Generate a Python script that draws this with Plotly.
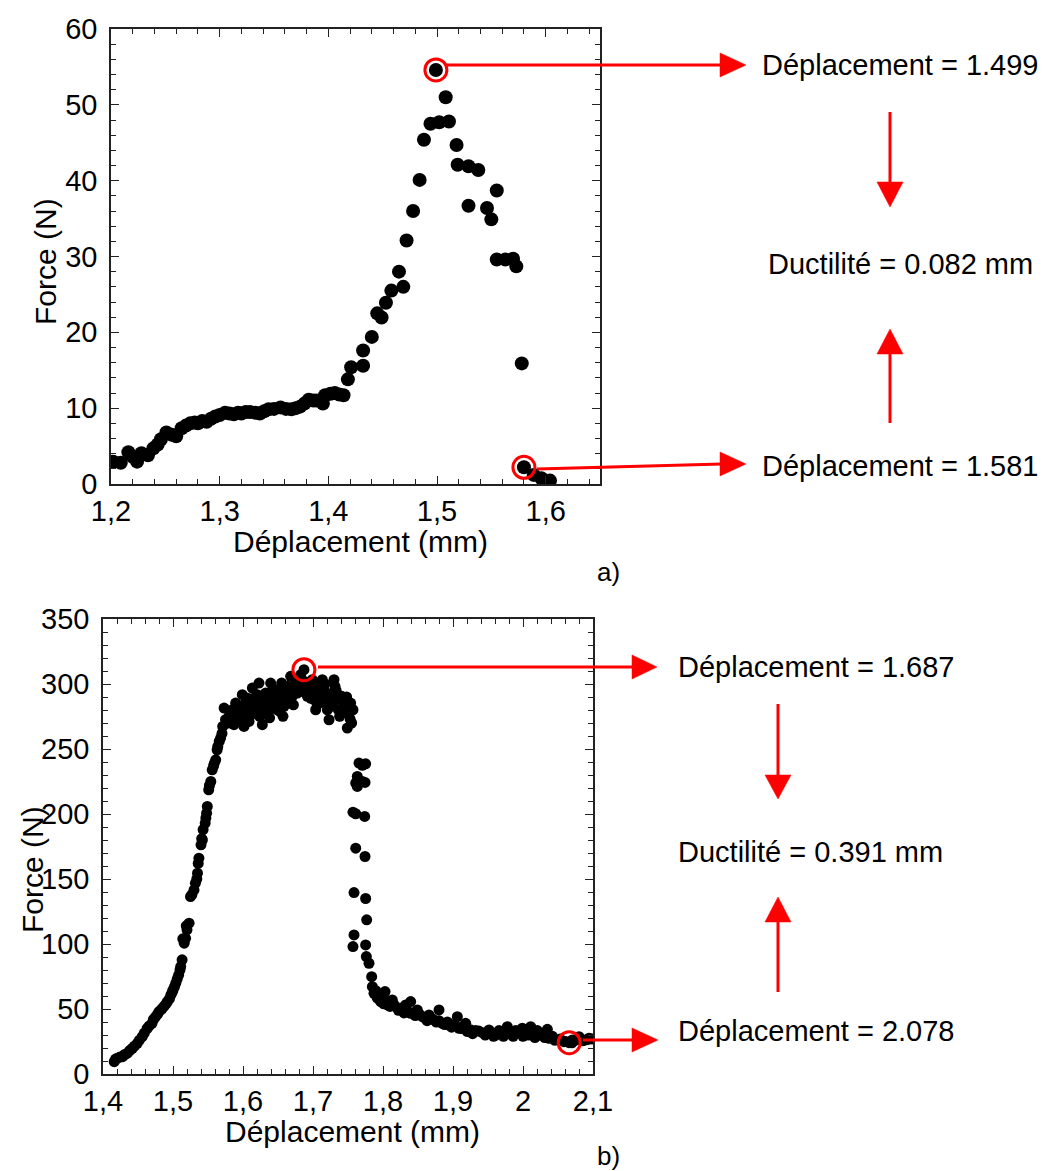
import plotly.graph_objects as go

W, H = 1043, 1171

# ---------------- data: panel a ----------------
disp_a = [1.202, 1.209, 1.216, 1.220, 1.224, 1.228, 1.234, 1.239, 1.243, 1.246,
          1.251, 1.256, 1.260, 1.265, 1.269, 1.273, 1.277, 1.280, 1.284, 1.288,
          1.292, 1.296, 1.300, 1.305, 1.309, 1.313, 1.317, 1.320, 1.324, 1.328,
          1.333, 1.337, 1.341, 1.345, 1.350, 1.356, 1.361, 1.366, 1.370, 1.374,
          1.378, 1.382, 1.386, 1.389, 1.395, 1.397, 1.402, 1.406, 1.410, 1.414,
          1.418, 1.421, 1.432, 1.432, 1.440, 1.445, 1.449, 1.453, 1.458, 1.465,
          1.469, 1.472, 1.478, 1.484, 1.488, 1.494, 1.499, 1.502, 1.508, 1.511,
          1.518, 1.519, 1.529, 1.538, 1.529, 1.546, 1.550, 1.555, 1.555, 1.563,
          1.570, 1.573, 1.578, 1.580, 1.589, 1.596, 1.604]
force_a = [2.95, 2.8, 4.2, 3.6, 2.95, 4.05, 3.8, 4.7, 5.2, 5.9,
           6.8, 6.5, 6.3, 7.35, 7.7, 8.0, 8.1, 8.0, 8.3, 8.2,
           8.6, 8.9, 9.1, 9.4, 9.3, 9.2, 9.4, 9.3, 9.5, 9.5,
           9.4, 9.3, 9.6, 9.85, 9.9, 10.1, 9.9, 9.85, 10.0, 10.2,
           10.6, 11.1, 11.0, 11.0, 10.6, 11.7, 11.9, 12.0, 11.8, 11.7,
           13.8, 15.4, 15.6, 17.6, 19.4, 22.5, 21.95, 23.9, 25.5, 28.0,
           26.0, 32.1, 36.0, 40.1, 45.4, 47.5, 54.6, 47.7, 51.0, 47.8,
           44.7, 42.1, 41.9, 41.4, 36.7, 36.4, 34.9, 38.7, 29.6, 29.6,
           29.7, 28.7, 15.9, 2.2, 1.2, 0.75, 0.45]
marked_a_x = [1.499, 1.580]
marked_a_y = [54.6, 2.2]

# ---------------- data: panel b ----------------
disp_b = [
    # rise
    1.416, 1.418, 1.420, 1.424, 1.428, 1.431, 1.435, 1.438, 1.442, 1.445,
    1.449, 1.452, 1.456, 1.459, 1.463, 1.466, 1.470, 1.472, 1.475, 1.478,
    1.480, 1.484, 1.487, 1.490, 1.492, 1.495, 1.497, 1.499, 1.500, 1.502,
    1.504, 1.506, 1.508, 1.510, 1.511, 1.513, 1.514, 1.516, 1.518, 1.519,
    1.520, 1.523, 1.525, 1.527, 1.530, 1.532, 1.534, 1.535, 1.536, 1.537,
    1.540, 1.541, 1.542, 1.543, 1.546, 1.547, 1.548, 1.549, 1.551, 1.552,
    1.554, 1.556, 1.558, 1.559, 1.561, 1.563, 1.564, 1.566, 1.568, 1.570,
    1.571, 1.573, 1.575, 1.577,
    # plateau
    1.580, 1.5848, 1.5871, 1.5895, 1.5943, 1.5967, 1.599, 1.6014, 1.6038, 1.6062,
    1.6086, 1.6133, 1.6157, 1.6181, 1.6205, 1.6229, 1.6252, 1.6276, 1.630, 1.6324,
    1.6348, 1.6371, 1.6395, 1.6419, 1.6443, 1.6467, 1.649, 1.6514, 1.6552, 1.6571,
    1.6586, 1.661, 1.6633, 1.6657, 1.6681, 1.6705, 1.6729, 1.6752, 1.6776, 1.680,
    1.6824, 1.6848, 1.6871, 1.6895, 1.6919, 1.6943, 1.6967, 1.699, 1.7014, 1.7038,
    1.7062, 1.7086, 1.711, 1.7133, 1.7157, 1.7181, 1.7205, 1.7229, 1.7252, 1.7276,
    1.730, 1.7314, 1.7333, 1.7362, 1.7381, 1.741, 1.7443, 1.7467, 1.749, 1.7514,
    1.7538, 1.7552, 1.7571,
    1.582, 1.588, 1.592, 1.597, 1.603, 1.607, 1.611, 1.615, 1.619, 1.624,
    1.628, 1.633, 1.638, 1.643, 1.648, 1.653, 1.656, 1.662, 1.667, 1.672,
    1.677, 1.683, 1.688, 1.692, 1.697, 1.702, 1.706, 1.712, 1.717, 1.722,
    1.727, 1.733, 1.738, 1.743, 1.748, 1.753,
    # drop
    1.7657, 1.7752, 1.7633, 1.761, 1.7743, 1.7633, 1.7705, 1.7705, 1.7571, 1.761,
    1.7738, 1.761, 1.7743, 1.7586, 1.7752, 1.7767, 1.7586, 1.7571, 1.7752, 1.7762,
    1.780, 1.7838, 1.7848, 1.7871, 1.7919, 1.7967, 1.8029, 1.8062, 1.8133, 1.8181,
    1.8252, 1.8324, 1.8395, 1.8395, 1.849, 1.8562, 1.8657, 1.8729, 1.880, 1.8848,
    1.8943, 1.9062, 1.9086, 1.9181, 1.9205, 1.9324, 1.9419, 1.9514, 1.961, 1.9657,
    1.9776, 1.9776, 1.9895, 1.999, 2.0038, 2.011, 2.0205, 2.0229, 2.0348, 2.0371,
    2.049, 2.0586, 2.0657, 2.0705, 2.080, 2.0895, 2.0943,
    # tail
    1.790, 1.794, 1.799, 1.801, 1.808, 1.810, 1.815, 1.822, 1.828, 1.830,
    1.836, 1.843, 1.846, 1.852, 1.860, 1.863, 1.869, 1.876, 1.880, 1.888,
    1.892, 1.898, 1.902, 1.912, 1.915, 1.925, 1.928, 1.937, 1.946, 1.955,
    1.958, 1.970, 1.972, 1.983, 1.986, 1.995, 2.000, 2.008, 2.015, 2.017,
    2.028, 2.031, 2.042, 2.045, 2.053, 2.061, 2.070, 2.075, 2.085, 2.092,
    2.098]
force_b = [
    # rise
    9.5, 11.5, 12.0, 13.0, 13.3, 15.0, 16.0, 18.0, 19.8, 21.5,
    23.6, 26.0, 28.7, 31.5, 35.0, 37.0, 39.0, 42.0, 44.0, 46.0,
    48.0, 50.0, 52.0, 54.0, 55.7, 58.0, 60.8, 63.0, 64.7, 67.0,
    69.8, 73.0, 76.0, 80.0, 82.6, 87.8, 104.0, 100.6, 104.4, 114.0,
    110.9, 116.0, 136.5, 138.0, 141.6, 146.8, 150.0, 154.5, 162.0, 166.0,
    176.3, 181.0, 180.0, 188.0, 193.0, 197.0, 200.6, 205.8, 218.6, 222.0,
    225.0, 234.0, 237.0, 239.0, 241.7, 249.4, 252.0, 255.8, 258.4, 262.0,
    267.4, 281.5, 272.5, 270.0,
    # plateau
    275.1, 280.2, 268.7, 285.3, 277.7, 282.8, 291.8, 267.4, 275.1, 280.2,
    271.2, 296.9, 287.9, 280.2, 291.8, 300.7, 282.8, 268.7, 277.7, 293.0,
    285.3, 280.2, 300.7, 290.5, 284.1, 295.6, 280.2, 287.9, 300.7, 275.1,
    282.8, 293.0, 298.2, 285.3, 305.9, 290.5, 295.6, 302.0, 293.0, 298.2,
    307.2, 294.3, 311.0, 299.5, 290.5, 300.7, 295.6, 303.3, 287.9, 280.2,
    284.1, 298.2, 293.0, 303.3, 295.6, 287.9, 280.2, 272.5, 282.8, 293.0,
    303.3, 298.2, 287.9, 280.2, 275.1, 290.5, 285.3, 280.2, 266.1, 277.7,
    285.3, 270.0, 280.2,
    270.0, 277.0, 272.0, 274.0, 285.0, 289.0, 276.0, 283.0, 291.0, 275.0,
    290.0, 283.0, 274.0, 296.0, 289.0, 279.0, 293.0, 286.0, 296.0, 284.0,
    300.0, 296.0, 302.0, 295.0, 289.0, 297.0, 292.0, 286.0, 300.0, 291.0,
    286.0, 295.0, 289.0, 278.0, 290.0, 273.0,
    # drop
    239.2, 238.6, 228.9, 223.8, 224.3, 221.2, 237.5, 225.0, 201.4, 200.2,
    198.1, 173.7, 167.3, 139.6, 135.0, 118.6, 107.0, 98.0, 99.3, 90.3,
    85.2, 74.9, 67.2, 62.1, 58.3, 55.7, 63.4, 53.1, 57.0, 51.8,
    50.6, 53.1, 55.7, 46.7, 49.3, 44.1, 45.4, 41.6, 49.3, 39.0,
    37.7, 44.1, 35.2, 39.0, 32.6, 33.4, 31.8, 33.9, 30.0, 33.4,
    36.4, 30.8, 33.4, 35.2, 31.3, 36.4, 33.4, 30.0, 34.4, 27.5,
    26.2, 24.9, 24.1, 26.2, 28.7, 26.2, 27.5,
    # tail
    64.0, 60.0, 57.0, 54.0, 56.0, 52.0, 54.0, 49.0, 50.0, 47.0,
    48.0, 47.0, 45.0, 46.0, 43.0, 41.0, 43.0, 40.0, 41.0, 38.0,
    40.0, 36.0, 38.0, 35.0, 37.0, 34.0, 31.0, 33.0, 30.0, 31.0,
    29.0, 31.0, 29.0, 31.0, 29.0, 32.0, 29.0, 30.0, 32.0, 28.0,
    31.0, 28.0, 29.0, 26.0, 27.0, 25.0, 24.0, 26.0, 25.5, 26.5,
    27.0]
marked_b_x = [1.687, 2.066]
marked_b_y = [311.0, 24.1]

xticks_a = [1.2, 1.3, 1.4, 1.5, 1.6]
xtext_a = ["1,2", "1,3", "1,4", "1,5", "1,6"]
yticks_a = [0, 10, 20, 30, 40, 50, 60]
xticks_b = [1.4, 1.5, 1.6, 1.7, 1.8, 1.9, 2.0, 2.1]
xtext_b = ["1,4", "1,5", "1,6", "1,7", "1,8", "1,9", "2", "2,1"]
yticks_b = [0, 50, 100, 150, 200, 250, 300, 350]

labels_a = ["Déplacement = 1.499", "Ductilité = 0.082 mm", "Déplacement = 1.581"]
labels_b = ["Déplacement = 1.687", "Ductilité = 0.391 mm", "Déplacement = 2.078"]

FONT = "Liberation Sans, Arial, sans-serif"
RED = "#ff0000"


def X(px):
    return px / W


def Y(py):
    return 1 - py / H


fig = go.Figure()
fig.add_trace(go.Scatter(x=disp_a, y=force_a, mode="markers", xaxis="x", yaxis="y",
                         marker=dict(color="black", size=14), showlegend=False))
fig.add_trace(go.Scatter(x=marked_a_x, y=marked_a_y, mode="markers", xaxis="x", yaxis="y",
                         marker=dict(symbol="circle-open", color=RED, size=22,
                                     line=dict(width=3, color=RED)), showlegend=False))
fig.add_trace(go.Scatter(x=disp_b, y=force_b, mode="markers", xaxis="x2", yaxis="y2",
                         marker=dict(color="black", size=11), showlegend=False))
fig.add_trace(go.Scatter(x=marked_b_x, y=marked_b_y, mode="markers", xaxis="x2", yaxis="y2",
                         marker=dict(symbol="circle-open", color=RED, size=22,
                                     line=dict(width=3, color=RED)), showlegend=False))

axis_common = dict(showgrid=False, zeroline=False, showline=True, linecolor="#222",
                   linewidth=1.5, mirror="allticks", ticks="inside", ticklen=8,
                   tickwidth=1, tickcolor="#222", automargin=False,
                   tickfont=dict(family=FONT, size=29, color="black"))

fig.update_layout(
    width=W, height=H, margin=dict(l=0, r=0, t=0, b=0, autoexpand=False),
    paper_bgcolor="white", plot_bgcolor="white",
    font=dict(family=FONT, color="black"),
    xaxis=dict(domain=[X(111), X(600)], anchor="y", range=[1.2, 1.65],
               tickmode="array", tickvals=xticks_a, ticktext=xtext_a,
               ticklabelstandoff=0,
               minor=dict(dtick=0.02, tick0=1.2, ticks="inside", ticklen=5,
                          tickcolor="#222", showgrid=False),
               **axis_common),
    yaxis=dict(domain=[Y(484), Y(29)], anchor="x", range=[0, 60],
               tickmode="array", tickvals=yticks_a, ticklabelstandoff=6,
               minor=dict(dtick=2, tick0=0, ticks="inside", ticklen=5,
                          tickcolor="#222", showgrid=False),
               **axis_common),
    xaxis2=dict(domain=[X(103), X(593)], anchor="y2", range=[1.4, 2.1],
                tickmode="array", tickvals=xticks_b, ticktext=xtext_b,
                ticklabelstandoff=0,
                minor=dict(dtick=0.02, tick0=1.4, ticks="inside", ticklen=5,
                           tickcolor="#222", showgrid=False),
                **axis_common),
    yaxis2=dict(domain=[Y(1074), Y(619)], anchor="x2", range=[0, 350],
                tickmode="array", tickvals=yticks_b, ticklabelstandoff=6,
                minor=dict(dtick=10, tick0=0, ticks="inside", ticklen=5,
                           tickcolor="#222", showgrid=False),
                **axis_common),
)

shapes = []


def line(x0, y0, x1, y1):
    shapes.append(dict(type="line", xref="paper", yref="paper",
                       x0=X(x0), y0=Y(y0), x1=X(x1), y1=Y(y1),
                       line=dict(color=RED, width=3)))


def tri(pts):
    path = "M " + " L ".join(f"{X(a):.5f},{Y(b):.5f}" for a, b in pts) + " Z"
    shapes.append(dict(type="path", xref="paper", yref="paper", path=path,
                       fillcolor=RED, line=dict(color=RED, width=0.5)))


# panel a arrows
line(446, 65, 722, 65); tri([(720, 53), (746, 65), (720, 77)])
line(890, 112, 890, 184); tri([(877, 182), (903, 182), (890, 207)])
line(890, 423, 890, 352); tri([(877, 354), (903, 354), (890, 329)])
line(537, 469, 722, 464); tri([(720, 452), (746, 464), (720, 476)])
# panel b arrows
line(318, 667, 634, 667); tri([(632, 655), (657, 667), (632, 679)])
line(778, 704, 778, 777); tri([(765, 775), (791, 775), (778, 799)])
line(778, 992, 778, 920); tri([(765, 922), (791, 922), (778, 897)])
line(583, 1040, 634, 1040); tri([(632, 1028), (658, 1040), (632, 1052)])

fig.update_layout(shapes=shapes)

ann = []


def text(t, x, y, size=29, xanchor="left", angle=0):
    ann.append(dict(text=t, x=X(x), y=Y(y), xref="paper", yref="paper",
                    xanchor=xanchor, yanchor="middle", showarrow=False,
                    textangle=angle, font=dict(family=FONT, size=size, color="black")))


text(labels_a[0], 760, 65)
text(labels_a[1], 900, 264, xanchor="center")
text(labels_a[2], 760, 466)
text("a)", 608, 572, size=26, xanchor="center")
text(labels_b[0], 676, 667)
text(labels_b[1], 810, 852, xanchor="center")
text(labels_b[2], 676, 1031)
text("b)", 608, 1156, size=26, xanchor="center")
# axis titles
text("Force (N)", 45, 262, size=30, xanchor="center", angle=-90)
text("Déplacement (mm)", 360, 542, size=30, xanchor="center")
text("Force (N)", 32, 870, size=30, xanchor="center", angle=-90)
text("Déplacement (mm)", 352, 1131, size=30, xanchor="center")

fig.update_layout(annotations=ann)
fig.write_html("out.html", config={"displayModeBar": False},
               post_script="document.body.style.margin='0';document.body.style.overflow='hidden';")
